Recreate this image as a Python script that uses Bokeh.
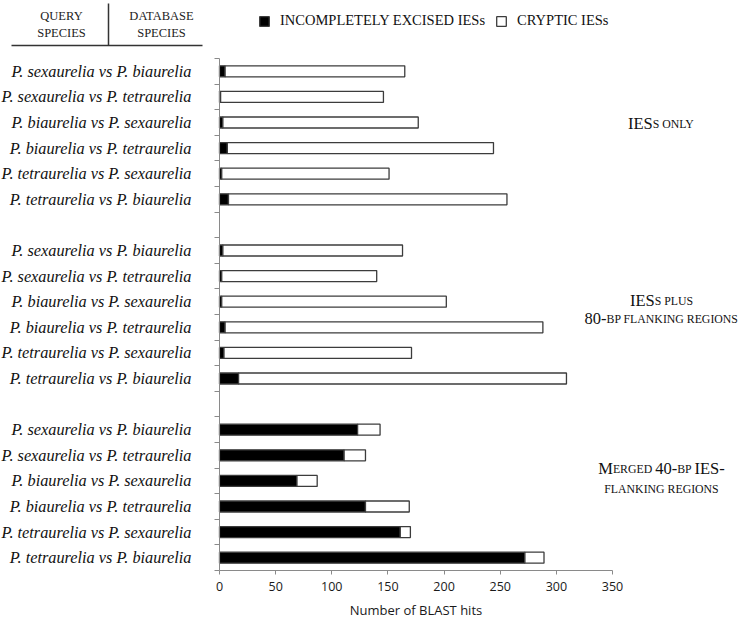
from bokeh.plotting import figure
from bokeh.models import (Range1d, FixedTicker, Label, Arrow, Legend, LegendItem,
                          ColumnDataSource)
from bokeh.embed import file_html
from bokeh.resources import INLINE

# ---------------- data ----------------
pairs = [
    "P. sexaurelia vs P. biaurelia",
    "P. sexaurelia vs P. tetraurelia",
    "P. biaurelia vs P. sexaurelia",
    "P. biaurelia vs P. tetraurelia",
    "P. tetraurelia vs P. sexaurelia",
    "P. tetraurelia vs P. biaurelia",
]
# incompletely excised IESs (black) per comparison, 3 groups x 6 pairs
incomplete_ies_only = [5, 1, 3, 7, 2, 8]
incomplete_plus_80bp = [3, 2, 2, 5, 4, 17]
incomplete_merged_40bp = [123, 111, 69, 130, 161, 272]
# cryptic IESs (white)
cryptic_ies_only = [160, 145, 174, 237, 149, 248]
cryptic_plus_80bp = [160, 138, 200, 283, 167, 292]
cryptic_merged_40bp = [20, 19, 18, 39, 9, 17]

x_ticks = [0, 50, 100, 150, 200, 250, 300, 350]
legend_labels = ["INCOMPLETELY EXCISED IESs", "CRYPTIC IESs"]
x_label = "Number of BLAST hits"

# ---------------- layout constants (pixels of the canvas) ----------------
W, H = 746, 621
X0, X350 = 219, 612        # pixel of value 0 and 350
Y_TOP, SLOT = 58, 25.6     # pixel of top slot boundary, pixels per slot
PXU = (X350 - X0) / 350.0
SERIF = "Liberation Serif"


def dx(px):
    """canvas pixel -> data x"""
    return (px - X0) / PXU


def dy(py):
    """canvas pixel -> data y"""
    return -0.5 + (py - Y_TOP) / SLOT


incomplete = incomplete_ies_only + incomplete_plus_80bp + incomplete_merged_40bp
cryptic = cryptic_ies_only + cryptic_plus_80bp + cryptic_merged_40bp
labels = pairs * 3
ypos = [g * 7 + i for g in range(3) for i in range(len(pairs))]

source = ColumnDataSource(dict(y=ypos, inc=incomplete, cry=cryptic, label=labels))

p = figure(width=W, height=H, output_backend="svg", toolbar_location=None,
           x_range=Range1d(dx(0), dx(W)), y_range=Range1d(dy(H), dy(0)),
           min_border_left=0, min_border_right=0,
           min_border_top=0, min_border_bottom=0)
p.outline_line_color = None
p.xgrid.visible = False
p.ygrid.visible = False

rs = p.hbar_stack(["inc", "cry"], y="y", height=0.43, color=["black", "white"],
                  line_color="#3c3c3c", line_width=1.3, source=source)

# x axis
p.xaxis.fixed_location = 19.5
p.xaxis.bounds = (0, 350)
p.xaxis.ticker = FixedTicker(ticks=x_ticks)
p.xaxis.axis_line_color = "#8a8a8a"
p.xaxis.major_tick_line_color = "#8a8a8a"
p.xaxis.major_tick_out = 4
p.xaxis.major_tick_in = 0
p.xaxis.minor_tick_line_color = None
p.xaxis.major_label_text_font = "Open Sans"
p.xaxis.major_label_text_font_size = "12.5px"
p.xaxis.major_label_text_color = "#1a1a1a"
p.xaxis.major_label_standoff = 7
p.xaxis.axis_label = x_label
p.xaxis.axis_label_text_font = "Open Sans"
p.xaxis.axis_label_text_font_size = "13px"
p.xaxis.axis_label_text_font_style = "normal"
p.xaxis.axis_label_text_color = "#1a1a1a"
p.xaxis.axis_label_standoff = 7

# y axis
boundaries = [k - 0.5 for k in range(21)]
p.yaxis.fixed_location = 0
p.yaxis.bounds = (-0.5, 19.5)
p.yaxis.ticker = FixedTicker(ticks=ypos, minor_ticks=boundaries)
p.yaxis.major_label_overrides = {y: lab for y, lab in zip(ypos, labels)}
p.yaxis.axis_line_color = "#8a8a8a"
p.yaxis.major_tick_out = 0
p.yaxis.major_tick_in = 0
p.yaxis.minor_tick_out = 5
p.yaxis.minor_tick_in = 0
p.yaxis.minor_tick_line_color = "#8a8a8a"
p.yaxis.major_label_text_font = SERIF
p.yaxis.major_label_text_font_style = "italic"
p.yaxis.major_label_text_font_size = "16.3px"
p.yaxis.major_label_text_color = "#111111"
p.yaxis.major_label_standoff = 23

# legend (top of the picture)
legend = Legend(items=[LegendItem(label=legend_labels[0], renderers=[rs[0]]),
                       LegendItem(label=legend_labels[1], renderers=[rs[1]])],
                orientation="horizontal", location=(258, H - 29),
                glyph_width=12, glyph_height=12, label_standoff=10, spacing=10,
                padding=0, margin=0, border_line_color=None,
                background_fill_alpha=0,
                label_text_font=SERIF, label_text_font_size="14.5px",
                label_text_color="#111111")
p.add_layout(legend, "center")

# header table (query / database species)
for txt, cx, cy in [("QUERY", 61, 15), ("SPECIES", 61, 32),
                    ("DATABASE", 161, 15), ("SPECIES", 161, 32)]:
    p.add_layout(Label(x=dx(cx), y=dy(cy), text=txt, text_align="center",
                       text_baseline="middle", text_font=SERIF,
                       text_font_size="12.5px", text_color="#222222"))
p.add_layout(Arrow(end=None, x_start=dx(11), y_start=dy(45),
                   x_end=dx(202), y_end=dy(45),
                   line_color="#333333", line_width=1.5))
p.add_layout(Arrow(end=None, x_start=dx(108), y_start=dy(3),
                   x_end=dx(108), y_end=dy(45),
                   line_color="#333333", line_width=1.5))

# group annotations in (fake) small caps
TW = {"A": 722, "B": 667, "C": 667, "D": 722, "E": 611, "F": 556, "G": 722,
      "H": 722, "I": 333, "J": 389, "K": 722, "L": 611, "M": 889, "N": 722,
      "O": 722, "P": 556, "Q": 722, "R": 667, "S": 556, "T": 611, "U": 722,
      "V": 722, "W": 944, "X": 722, "Y": 722, "Z": 611, " ": 250, "-": 333}
for d in "0123456789":
    TW[d] = 500
BIG, SMALL = 16.5, 11.8


def smallcaps(line, cx_px, base_py):
    # line: list of (text, big?) runs
    runs = [(t.upper(), BIG if big else SMALL) for t, big in line]
    widths = [sum(TW.get(c, 600) for c in t) * s / 1000.0 for t, s in runs]
    total = sum(widths)
    off = -total / 2.0
    for (t, s), w in zip(runs, widths):
        p.add_layout(Label(x=dx(cx_px), y=dy(base_py), x_offset=off,
                           text=t, text_align="left", text_baseline="alphabetic",
                           text_font=SERIF, text_font_size=f"{s}px",
                           text_color="#111111"))
        off += w


CX = 661
smallcaps([("IES", True), ("s only", False)], CX, 123)
smallcaps([("IES", True), ("s plus", False)], CX, 300)
smallcaps([("80-", True), ("bp flanking regions", False)], CX, 318)
smallcaps([("M", True), ("erged ", False), ("40-", True), ("bp ", False),
           ("IES-", True)], CX, 468)
smallcaps([("flanking regions", False)], CX, 488)

open("out.html", "w").write(file_html(p, INLINE))
